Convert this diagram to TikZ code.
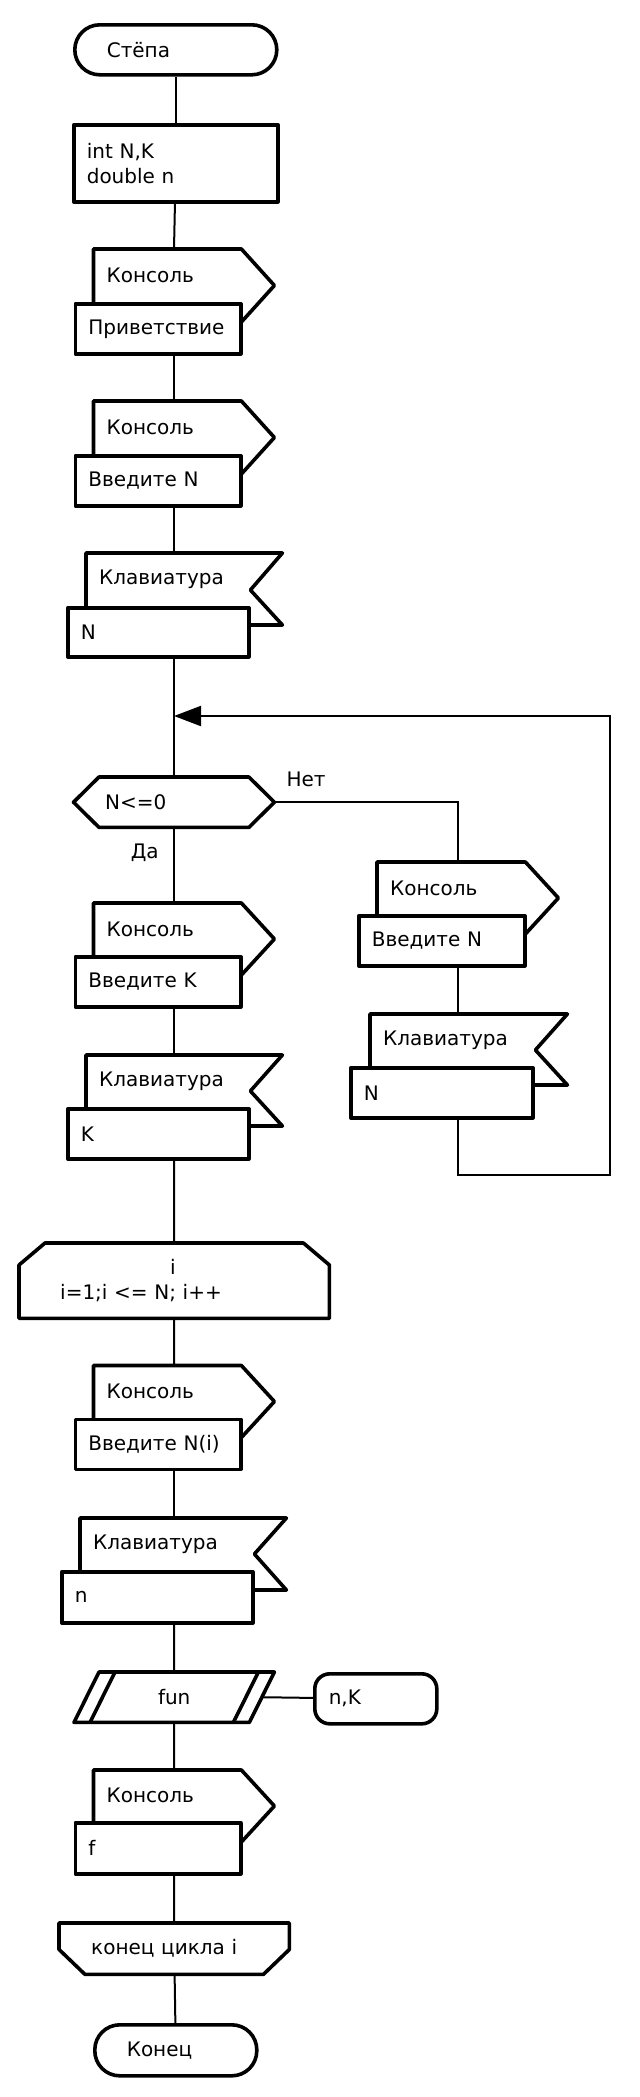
\documentclass[tikz,border=0pt]{standalone}
\usepackage{fontspec}
\setmainfont{DejaVu Sans}
\usetikzlibrary{calc,arrows.meta}

\begin{document}
\begin{tikzpicture}[x=1pt,y=-1pt,
  font=\fontsize{20}{25}\selectfont,
  box/.style={draw, fill=white, line width=3.6pt, line join=round, anchor=north west,
    align=left, inner xsep=13pt, inner ysep=0pt},
  shp/.style={anchor=north west, align=left, inner xsep=13pt, inner ysep=0pt},
  outl/.style={draw, line width=3.6pt, line join=round},
  ln/.style={line width=2pt},
  lbl/.style={inner sep=0pt}]
 \useasboundingbox (0,0) rectangle (640,2097);
 \coordinate (ax) at (174,0);
 \coordinate (rx) at (458,0);
 \coordinate (back) at (610,1175);
 \coordinate (mrg) at (174,716);
 % start and declarations
 \node[box, rounded corners=25pt, inner xsep=32pt, text width=138pt, minimum height=50pt] (start) at (73,23) {Стёпа};
 \node[box, text width=178pt, minimum height=77pt] (decl) at (72,123) {int N,K\\double n};
 % console: greeting
 \node[shp, text width=154.5pt, minimum height=53pt] (con1) at (93.5,249) {Консоль};
 \draw[outl] (con1.north west) -- ($(con1.north east)+(-33,0)$) -- ($(con1.north east)+(0,36.5)$)
   -- ($(con1.north east)+(-33,73)$) -- ($(con1.north west)+(0,73)$) -- cycle;
 \node[box, text width=139.5pt, minimum height=50pt] (hello) at (73.5,302) {Приветствие};
 % console: ask N
 \node[shp, text width=154.5pt, minimum height=53pt] (con2) at (93.5,401) {Консоль};
 \draw[outl] (con2.north west) -- ($(con2.north east)+(-33,0)$) -- ($(con2.north east)+(0,36.5)$)
   -- ($(con2.north east)+(-33,73)$) -- ($(con2.north west)+(0,73)$) -- cycle;
 \node[box, text width=139.5pt, minimum height=50pt] (askN) at (73.5,454) {Введите N};
 % keyboard: N
 \node[shp, text width=170pt, minimum height=53pt] (kb1) at (86,553) {Клавиатура};
 \draw[outl] (kb1.north west) -- (kb1.north east) -- ($(kb1.north east)+(-32,37)$)
   -- ($(kb1.north east)+(0,72)$) -- ($(kb1.north west)+(0,72)$) -- cycle;
 \node[box, text width=155pt, minimum height=49pt] (inN) at (66,606) {N};
 % check N
 \node[shp, inner xsep=31.5pt, text width=137.5pt, minimum height=50pt] (dec) at (73.5,777) {N<=0};
 \draw[outl] (dec.west) -- ($(dec.north west)+(25.5,0)$) -- ($(dec.north east)+(-25.5,0)$)
   -- (dec.east) -- ($(dec.south east)+(-25.5,0)$) -- ($(dec.south west)+(25.5,0)$) -- cycle;
 \node[lbl, anchor=base west] (no) at ([xshift=12pt,yshift=16pt]dec.east) {Нет};
 \node[lbl, anchor=base east] (yes) at ([xshift=-15pt,yshift=-31pt]dec.south) {Да};
 % repeat N (right branch)
 \node[shp, text width=155pt, minimum height=52pt] (con6) at (377,862) {Консоль};
 \draw[outl] (con6.north west) -- ($(con6.north east)+(-33,0)$) -- ($(con6.north east)+(0,36)$)
   -- ($(con6.north east)+(-33,72)$) -- ($(con6.north west)+(0,72)$) -- cycle;
 \node[box, text width=140pt, minimum height=50pt] (askN2) at (357,914) {Введите N};
 \node[shp, text width=171pt, minimum height=52pt] (kb4) at (370,1014) {Клавиатура};
 \draw[outl] (kb4.north west) -- (kb4.north east) -- ($(kb4.north east)+(-32,36)$)
   -- ($(kb4.north east)+(0,71)$) -- ($(kb4.north west)+(0,71)$) -- cycle;
 \node[box, text width=156pt, minimum height=50pt] (inN2) at (349,1066) {N};
 % ask K
 \node[shp, text width=154.5pt, minimum height=52pt] (con3) at (93.5,903) {Консоль};
 \draw[outl] (con3.north west) -- ($(con3.north east)+(-33,0)$) -- ($(con3.north east)+(0,36)$)
   -- ($(con3.north east)+(-33,72)$) -- ($(con3.north west)+(0,72)$) -- cycle;
 \node[box, text width=139.5pt, minimum height=50pt] (askK) at (73.5,955) {Введите K};
 \node[shp, text width=170pt, minimum height=52pt] (kb2) at (86,1055) {Клавиатура};
 \draw[outl] (kb2.north west) -- (kb2.north east) -- ($(kb2.north east)+(-32,36)$)
   -- ($(kb2.north east)+(0,71)$) -- ($(kb2.north west)+(0,71)$) -- cycle;
 \node[box, text width=155pt, minimum height=50pt] (inK) at (66,1107) {K};
 % loop over i
 \node[shp, inner xsep=41pt, text width=228pt, minimum height=75pt] (loop) at (19,1243)
   {\hspace*{110pt}i\\i=1;i <= N; i++};
 \draw[outl] (loop.south west) -- ($(loop.north west)+(0,22)$) -- ($(loop.north west)+(26,0)$)
   -- ($(loop.north east)+(-26,0)$) -- ($(loop.north east)+(0,22)$) -- (loop.south east) -- cycle;
 \node[shp, text width=154.5pt, minimum height=52pt] (con4) at (93.5,1365.5) {Консоль};
 \draw[outl] (con4.north west) -- ($(con4.north east)+(-33,0)$) -- ($(con4.north east)+(0,36)$)
   -- ($(con4.north east)+(-33,72)$) -- ($(con4.north west)+(0,72)$) -- cycle;
 \node[box, text width=139.5pt, minimum height=50pt] (askNi) at (73.5,1417.5) {Введите N(i)};
 \node[shp, text width=180pt, minimum height=52pt] (kb3) at (80,1518) {Клавиатура};
 \draw[outl] (kb3.north west) -- (kb3.north east) -- ($(kb3.north east)+(-32,36)$)
   -- ($(kb3.north east)+(0,72)$) -- ($(kb3.north west)+(0,72)$) -- cycle;
 \node[box, text width=165pt, minimum height=51pt] (inn) at (60,1570) {n};
 % call fun
 \node[shp, align=center, inner xsep=0pt, text width=200pt, minimum height=50pt] (fun) at (74,1672) {fun};
 \draw[outl] (fun.south west) -- ($(fun.north west)+(25,0)$) -- (fun.north east)
   -- ($(fun.south east)+(-25,0)$) -- cycle;
 \draw[outl] ($(fun.south west)+(16,0)$) -- ($(fun.north west)+(41,0)$);
 \draw[outl] ($(fun.south east)+(-41,0)$) -- ($(fun.north east)+(-16,0)$);
 \node[box, rounded corners=15pt, inner xsep=14pt, text width=94pt, minimum height=50pt] (args) at (313,1672) {n,K};
 \node[shp, text width=154.5pt, minimum height=51pt] (con5) at (93.5,1770) {Консоль};
 \draw[outl] (con5.north west) -- ($(con5.north east)+(-33,0)$) -- ($(con5.north east)+(0,36)$)
   -- ($(con5.north east)+(-33,72)$) -- ($(con5.north west)+(0,72)$) -- cycle;
 \node[box, text width=139.5pt, minimum height=51pt] (outf) at (73.5,1821) {f};
 % loop end and finish
 \node[shp, inner xsep=32pt, text width=166pt, minimum height=51pt] (lend) at (59,1923) {конец цикла i};
 \draw[outl] (lend.north west) -- (lend.north east) -- ($(lend.south east)+(0,-25)$)
   -- ($(lend.south east)+(-26,0)$) -- ($(lend.south west)+(26,0)$) -- ($(lend.south west)+(0,-25)$) -- cycle;
 \node[box, rounded corners=25pt, inner xsep=32pt, text width=98pt, minimum height=51pt] (fin) at (93,2023) {Конец};
 % connectors
 \draw[ln] (start) -- (decl);
 \draw[ln] (decl) -- (ax |- con1.north);
 \draw[ln] (ax |- hello.south) -- (ax |- con2.north);
 \draw[ln] (ax |- askN.south) -- (ax |- kb1.north);
 \draw[ln] (ax |- inN.south) -- (ax |- dec.north);
 \draw[ln] (ax |- dec.south) -- (ax |- con3.north);
 \draw[ln] (ax |- askK.south) -- (ax |- kb2.north);
 \draw[ln] (ax |- inK.south) -- (loop);
 \draw[ln] (loop) -- (ax |- con4.north);
 \draw[ln] (ax |- askNi.south) -- (ax |- kb3.north);
 \draw[ln] (ax |- inn.south) -- (fun);
 \draw[ln] (fun) -- (ax |- con5.north);
 \draw[ln] (ax |- outf.south) -- (lend);
 \draw[ln] (lend) -- (fin);
 \draw[ln] ($(fun.east)+(-12.5,0)$) -- (args);
 \draw[ln] (dec.east) -| (rx |- con6.north);
 \draw[ln] (rx |- askN2.south) -- (rx |- kb4.north);
 \draw[ln, -{Triangle[length=27pt,width=20pt]}] (rx |- inN2.south) |- (back) |- (mrg);
\end{tikzpicture}
\end{document}
